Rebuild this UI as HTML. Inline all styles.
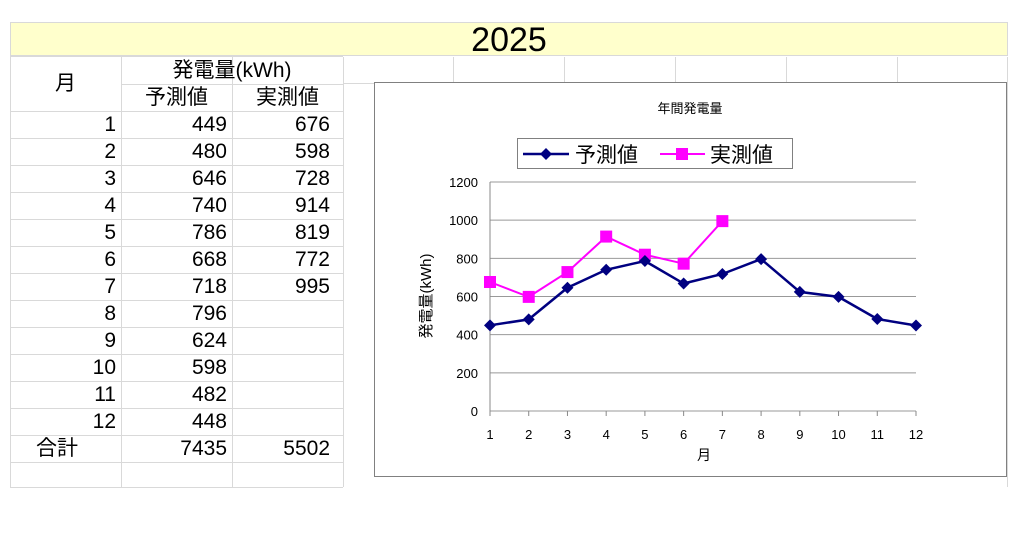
<!DOCTYPE html>
<html><head><meta charset="utf-8"><style>
body{margin:0;width:1024px;height:542px;background:#fff;position:relative;overflow:hidden;font-family:"Liberation Sans","Noto Sans CJK JP",sans-serif;}
.a{position:absolute;}
.hl{position:absolute;height:1px;background:#d9d9d9;}
.vl{position:absolute;width:1px;background:#d9d9d9;}
.c{position:absolute;font-size:21px;line-height:27px;height:27px;color:#000;}
.r{text-align:right;}
</style></head><body>
<div class="a" style="left:10px;top:22px;width:998px;height:34px;background:#ffffcc;border:1px solid #d9d9d9;box-sizing:border-box;text-align:center;font-size:34px;line-height:34px;">2025</div>
<div id="grid"></div>
<div class="c" style="left:10px;top:57px;width:111px;height:54px;line-height:54px;text-align:center;">月</div>
<div class="c" style="left:121px;top:57px;width:222px;text-align:center;">発電量(kWh)</div>
<div class="c" style="left:121px;top:84px;width:111px;text-align:center;">予測値</div>
<div class="c" style="left:232px;top:84px;width:111px;text-align:center;">実測値</div>
<div id="rows"></div>
<svg class="a" style="left:0;top:0" width="1024" height="542" id="chart"></svg>
<script>
const months=["1","2","3","4","5","6","7","8","9","10","11","12"];
const forecast=[449,480,646,740,786,668,718,796,624,598,482,448];
const actual=[676,598,728,914,819,772,995];
const yTicks=[0,200,400,600,800,1000,1200];
const totals=["7435","5502"];

const g=document.getElementById('grid');
function line(cls,l,t,len){const d=document.createElement('div');d.className=cls;d.style.left=l+'px';d.style.top=t+'px';if(cls==='hl')d.style.width=len+'px';else d.style.height=len+'px';


g.appendChild(d);}
for(let i=0;i<=16;i++){if(i===1)continue;line('hl',10,57+i*27-(i===0?1:0)-(i===16?2:0),333);}
line('hl',121,84,222);
line('hl',343,83,665);
[10,121,232,343].forEach(x=>line('vl',x,57,430));
[453,564,675,786,897,1007].forEach(x=>line('vl',x,57,26));
line('vl',1007,83,404);
const R=document.getElementById('rows');
function cell(txt,l,t,w,name,cls){const d=document.createElement('div');d.className='c '+(cls||'r');d.style.left=l+'px';d.style.top=t+'px';d.style.width=w+'px';d.textContent=txt;


R.appendChild(d);}
months.forEach((m,i)=>{const t=111+i*27;cell(m,10,t,106,'month-cell');cell(String(forecast[i]),121,t,106,'forecast-cell');if(i<actual.length)cell(String(actual[i]),232,t,98,'actual-cell');});
cell('合計',10,435,114,'total-label','');R.lastChild.style.textAlign='center';R.lastChild.style.left='0px';
cell(totals[0],121,435,106,'forecast-total');cell(totals[1],232,435,98,'actual-total');

const svg=document.getElementById('chart');const NS='http://www.w3.org/2000/svg';
function el(t,a,name,p){const e=document.createElementNS(NS,t);for(const k in a)e.setAttribute(k,a[k]);


(p||svg).appendChild(e);return e;}
el('rect',{x:374.5,y:82.5,width:632,height:394,fill:'#fff',stroke:'#808080'},'chart-frame');
const x0=490,x1=916,yTop=182,yBot=411;
const X=i=>x0+i*(x1-x0)/(months.length-1);
const Y=v=>yBot-v/1200*(yBot-yTop);
yTicks.forEach(v=>{el('line',{x1:x0,x2:x1,y1:Y(v),y2:Y(v),stroke:'#999'},'y-gridline');
const t=el('text',{x:478,y:Y(v)+5,'text-anchor':'end','font-size':13},'y-tick-label');t.textContent=v;});
el('line',{x1:x0,x2:x0,y1:yTop,y2:yBot,stroke:'#888'},'y-axis');
months.forEach((m,i)=>{el('line',{x1:X(i),x2:X(i),y1:yBot,y2:yBot+5,stroke:'#888'},'x-tick');
const t=el('text',{x:X(i),y:439,'text-anchor':'middle','font-size':13},'x-tick-label');t.textContent=m;});
let t=el('text',{x:704,y:460,'text-anchor':'middle','font-size':14},'x-axis-title');t.textContent='月';
t=el('text',{x:0,y:0,'text-anchor':'middle','font-size':15,transform:'translate(431,296) rotate(-90)'},'y-axis-title');t.textContent='発電量(kWh)';
t=el('text',{x:690,y:113,'text-anchor':'middle','font-size':13},'chart-title');t.textContent='年間発電量';
el('polyline',{points:actual.map((v,i)=>X(i)+','+Y(v)).join(' '),fill:'none',stroke:'#ff00ff','stroke-width':2},'actual-line');
el('polyline',{points:forecast.map((v,i)=>X(i)+','+Y(v)).join(' '),fill:'none',stroke:'#000080','stroke-width':2.5},'forecast-line');
actual.forEach((v,i)=>el('rect',{x:X(i)-6,y:Y(v)-6,width:12,height:12,fill:'#ff00ff'},'actual-point'));
forecast.forEach((v,i)=>el('polygon',{points:`${X(i)},${Y(v)-6} ${X(i)+6},${Y(v)} ${X(i)},${Y(v)+6} ${X(i)-6},${Y(v)}`,fill:'#000080'},'forecast-point'));
const lg=el('g',{},'legend');
el('rect',{x:517.5,y:138.5,width:275,height:30,fill:'#fff',stroke:'#808080'},'legend-box',lg);
el('line',{x1:523,x2:569,y1:154,y2:154,stroke:'#000080','stroke-width':2.5},'legend-forecast-line',lg);
el('polygon',{points:'546,148 552,154 546,160 540,154',fill:'#000080'},'legend-forecast-marker',lg);
t=el('text',{x:575,y:162,'font-size':21},'legend-forecast-label',lg);t.textContent='予測値';
el('line',{x1:660,x2:705,y1:154,y2:154,stroke:'#ff00ff','stroke-width':2},'legend-actual-line',lg);
el('rect',{x:676,y:148,width:12,height:12,fill:'#ff00ff'},'legend-actual-marker',lg);
t=el('text',{x:710,y:162,'font-size':21},'legend-actual-label',lg);t.textContent='実測値';
</script>
</body></html>
